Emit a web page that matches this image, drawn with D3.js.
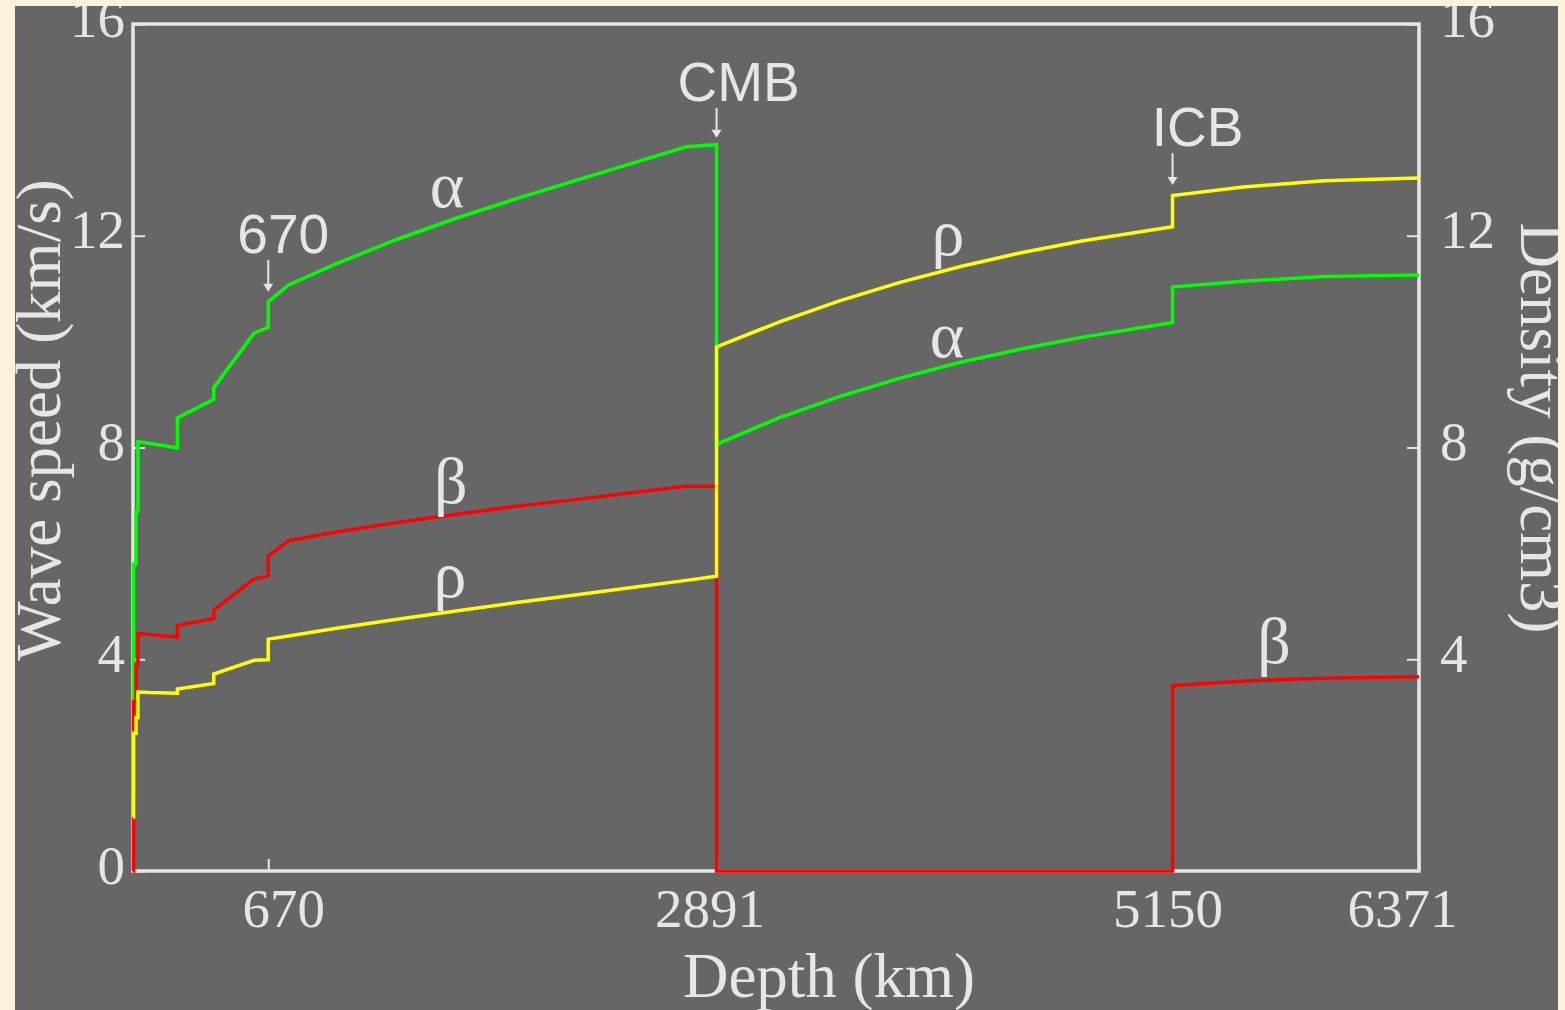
<!DOCTYPE html>
<html>
<head>
<meta charset="utf-8">
<script src="https://cdn.jsdelivr.net/npm/d3@7/dist/d3.min.js"></script>
<style>
  html, body { margin: 0; padding: 0; background: #fcf2dc; }
  svg { display: block; }
</style>
</head>
<body>
<svg id="chart" width="1565" height="1010"></svg>
<script>
// PREM-style radial profile, sampled at layer boundaries (repeated depths mark discontinuities)
const depthKm = [0, 3, 3, 15, 15, 24.4, 24.4, 80, 220, 220, 400, 400, 600, 670, 670, 771,
  1000, 1300, 1600, 1900, 2200, 2500, 2741, 2891, 2891, 3200, 3500, 3800, 4100, 4400, 4700,
  5150, 5150, 5500, 5900, 6371];
// P-wave speed alpha (km/s)
const vpKms = [1.45, 1.45, 5.80, 5.80, 6.80, 6.80, 8.11, 8.08, 7.99, 8.56, 8.91, 9.13, 10.16, 10.27, 10.75, 11.07,
  11.46, 11.92, 12.33, 12.70, 13.05, 13.40, 13.68, 13.72, 8.06, 8.56, 8.96, 9.31, 9.61, 9.86, 10.08,
  10.36, 11.03, 11.14, 11.23, 11.26];
// S-wave speed beta (km/s)
const vsKms = [0, 0, 3.20, 3.20, 3.90, 3.90, 4.49, 4.47, 4.42, 4.64, 4.77, 4.93, 5.52, 5.57, 5.95, 6.24,
  6.40, 6.58, 6.74, 6.89, 7.02, 7.16, 7.27, 7.27, 0, 0, 0, 0, 0, 0, 0,
  0, 3.50, 3.59, 3.64, 3.67];
// Density rho (g/cm3)
const rhoGcc = [1.02, 1.02, 2.60, 2.60, 2.90, 2.90, 3.38, 3.37, 3.36, 3.44, 3.54, 3.72, 3.98, 3.99, 4.38, 4.44,
  4.58, 4.75, 4.91, 5.07, 5.22, 5.37, 5.49, 5.57, 9.90, 10.37, 10.77, 11.12, 11.42, 11.68, 11.90,
  12.17, 12.76, 12.92, 13.04, 13.09];

const depthTicks = [670, 2891, 5150, 6371];
const speedTicks = [0, 4, 8, 12, 16];
const densityTicks = [4, 8, 12, 16];

// Curve name labels, anchored in data coordinates (depth, value)
const curveNames = ["α", "β", "ρ", "ρ", "α", "β"];
const curveNameDepth = [1556, 1575, 1570, 4038, 4033, 5653];
const curveNameValue = [12.54, 6.95, 5.18, 11.64, 9.71, 3.93];

// Boundary markers: label, depth, arrow top and tip values
const markerNames = ["670", "CMB", "ICB"];
const markerDepth = [670, 2891, 5150];
const markerArrowTop = [11.54, 14.41, 13.56];
const markerArrowTip = [10.94, 13.85, 12.96];

// ---- layout ----
const W = 1565, H = 1010;
const panel = { x: 15, y: 6, w: 1543, h: 1010 };
const plot = { left: 133, right: 1419, top: 24, bottom: 871 };
const ink = "#e6e6e6";
const serif = "'Liberation Serif', 'Times New Roman', serif";
const sans = "'Liberation Sans', Arial, sans-serif";

const svg = d3.select("#chart");
svg.append("rect").attr("width", W).attr("height", H).attr("fill", "#fcf2dc");

svg.append("clipPath").attr("id", "panelClip")
  .append("rect").attr("x", panel.x).attr("y", panel.y).attr("width", panel.w).attr("height", panel.h);

const root = svg.append("g").attr("clip-path", "url(#panelClip)");
root.append("rect").attr("x", panel.x).attr("y", panel.y).attr("width", panel.w).attr("height", panel.h)
  .attr("fill", "#666666");

const x = d3.scaleLinear().domain([0, 6371]).range([plot.left, plot.right]);
const y = d3.scaleLinear().domain([0, 16]).range([plot.bottom, plot.top]);

// frame
root.append("rect")
  .attr("x", plot.left).attr("y", plot.top)
  .attr("width", plot.right - plot.left).attr("height", plot.bottom - plot.top)
  .attr("fill", "none").attr("stroke", ink).attr("stroke-width", 3.5);

// axes with inward ticks
function styleAxis(g) {
  g.select(".domain").remove();
  g.selectAll(".tick line").attr("stroke", ink).attr("stroke-width", 2);
  g.selectAll(".tick text").attr("fill", ink)
    .style("font-family", serif).style("font-size", "55px");
}

const labelNudge = { 670: 15, 2891: -7, 5150: -5, 6371: -17 };
root.append("g").attr("transform", `translate(0,${plot.bottom})`)
  .call(d3.axisBottom(x).tickValues(depthTicks).tickFormat(d3.format("d")).tickSizeInner(-12).tickSizeOuter(0))
  .call(styleAxis)
  .call(g => g.selectAll(".tick text").attr("y", 56).attr("dy", 0)
    .attr("dx", d => labelNudge[d] || 0));

root.append("g").attr("transform", `translate(${plot.left},0)`)
  .call(d3.axisLeft(y).tickValues(speedTicks).tickFormat(d3.format("d")).tickSizeInner(-12).tickSizeOuter(0).tickPadding(8))
  .call(styleAxis)
  .call(g => g.selectAll(".tick text").attr("dy", 12));

root.append("g").attr("transform", `translate(${plot.right},0)`)
  .call(d3.axisRight(y).tickValues(densityTicks).tickFormat(d3.format("d")).tickSizeInner(-12).tickSizeOuter(0).tickPadding(21))
  .call(styleAxis)
  .call(g => g.selectAll(".tick text").attr("dy", 12));

// axis titles
root.append("text").attr("x", 829).attr("y", 997).attr("text-anchor", "middle")
  .attr("fill", ink).style("font-family", serif).style("font-size", "63px").text("Depth (km)");
root.append("text").attr("transform", "translate(60,420) rotate(-90)").attr("text-anchor", "middle")
  .attr("fill", ink).style("font-family", serif).style("font-size", "63px").text("Wave speed (km/s)");
root.append("text").attr("transform", "translate(1521,428) rotate(90)").attr("text-anchor", "middle")
  .attr("fill", ink).style("font-family", serif).style("font-size", "63px").text("Density (g/cm3)");

// profiles: alpha, beta, then rho on top
const line = d3.line().x(d => x(d[0])).y(d => y(d[1]));
const series = [
  { values: vpKms, color: "#00ff00" },
  { values: vsKms, color: "#ff0000" },
  { values: rhoGcc, color: "#ffff00" }
];
root.append("g").selectAll("path").data(series).join("path")
  .attr("d", s => line(depthKm.map((d, i) => [d, s.values[i]])))
  .attr("fill", "none").attr("stroke", s => s.color)
  .attr("stroke-width", 3.5).attr("stroke-linejoin", "miter");

// curve names
root.append("g").selectAll("text").data(curveNames).join("text")
  .attr("x", (d, i) => x(curveNameDepth[i]))
  .attr("y", (d, i) => y(curveNameValue[i]))
  .attr("text-anchor", "middle").attr("fill", ink)
  .style("font-family", serif).style("font-size", "66px")
  .text(d => d);

// boundary markers with arrows
const mk = root.append("g").selectAll("g").data(markerNames).join("g");
mk.append("text")
  .attr("x", (d, i) => x(markerDepth[i]) + (i === 0 ? 15 : i === 1 ? 22 : 25))
  .attr("y", (d, i) => y(markerArrowTop[i]) - 7)
  .attr("text-anchor", "middle").attr("fill", ink)
  .style("font-family", sans).style("font-size", "55px")
  .text(d => d);
mk.append("line")
  .attr("x1", (d, i) => x(markerDepth[i])).attr("x2", (d, i) => x(markerDepth[i]))
  .attr("y1", (d, i) => y(markerArrowTop[i])).attr("y2", (d, i) => y(markerArrowTip[i]) - 4)
  .attr("stroke", ink).attr("stroke-width", 2);
mk.append("path")
  .attr("d", (d, i) => {
    const cx = x(markerDepth[i]), ty = y(markerArrowTip[i]);
    return `M${cx - 5},${ty - 8}L${cx + 5},${ty - 8}L${cx},${ty}Z`;
  })
  .attr("fill", ink);
</script>
</body>
</html>
